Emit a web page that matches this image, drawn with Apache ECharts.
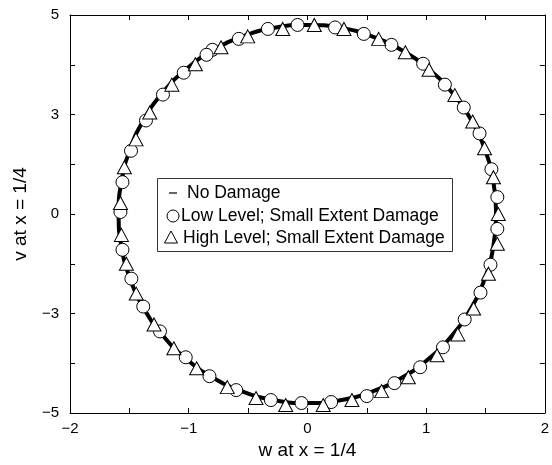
<!DOCTYPE html>
<html><head><meta charset="utf-8">
<script src="https://cdn.jsdelivr.net/npm/echarts@6/dist/echarts.min.js"></script>
<style>html,body{margin:0;padding:0;background:#fff}#c{width:552px;height:465px}</style>
</head><body><div id="c"></div><script>
// No Damage curve (thick line)
var lineX = [1.590,1.566,1.494,1.377,1.218,1.022,0.795,0.544,0.276,0,-0.276,-0.544,-0.795,-1.022,-1.218,-1.377,-1.494,-1.566,-1.590,-1.566,-1.494,-1.377,-1.218,-1.022,-0.795,-0.544,-0.276,0,0.276,0.544,0.795,1.022,1.218,1.377,1.494,1.566,1.590];
var lineY = [0,0.660,1.300,1.900,2.443,2.911,3.291,3.571,3.742,3.800,3.742,3.571,3.291,2.911,2.443,1.900,1.300,0.660,0,-0.660,-1.300,-1.900,-2.443,-2.911,-3.291,-3.571,-3.742,-3.800,-3.742,-3.571,-3.291,-2.911,-2.443,-1.900,-1.300,-0.660,0];
// Low Level; Small Extent Damage (circles)
var lowX = [-0.083,-0.333,-0.578,-0.80,-0.85,-1.042,-1.217,-1.36,-1.486,-1.558,-1.575,-1.558,-1.483,-1.383,-1.242,-1.025,-0.825,-0.60,-0.308,-0.05,0.20,0.50,0.733,0.95,1.142,1.325,1.458,1.542,1.60,1.60,1.55,1.45,1.317,1.158,0.975,0.708,0.475,0.233];
var lowY = [3.80,3.72,3.52,3.30,3.20,2.84,2.40,1.88,1.27,0.64,0.04,-0.72,-1.30,-1.86,-2.36,-2.88,-3.26,-3.54,-3.74,-3.80,-3.78,-3.66,-3.40,-3.08,-2.68,-2.12,-1.58,-1.02,-0.30,0.34,0.90,1.62,2.14,2.60,3.02,3.40,3.62,3.75];
// High Level; Small Extent Damage (triangles)
var highX = [0.058,0.308,0.60,0.825,1.025,1.242,1.392,1.492,1.567,1.608,1.60,1.525,1.40,1.267,1.092,0.85,0.625,0.375,0.133,-0.183,-0.433,-0.675,-0.933,-1.125,-1.292,-1.442,-1.525,-1.567,-1.575,-1.542,-1.444,-1.328,-1.142,-0.944,-0.728,-0.503,-0.208];
var highY = [3.80,3.72,3.52,3.25,2.90,2.39,1.86,1.32,0.74,0.0,-0.60,-1.20,-1.90,-2.42,-2.84,-3.28,-3.56,-3.74,-3.84,-3.84,-3.70,-3.48,-3.10,-2.70,-2.22,-1.60,-1.00,-0.42,0.22,0.94,1.50,2.04,2.60,3.01,3.35,3.57,3.72];
// tick labels
var xTickValues = [-2,-1,0,1,2];
var xTickLabels = ['\u22122','\u22121','0','1','2'];
var yTickValues = [-4,-2,0,2,4];
var yTickLabels = ['\u22125','\u22123','0','3','5'];
var seriesNames = ['No Damage','Low Level; Small Extent Damage','High Level; Small Extent Damage'];

function zip(a,b){return a.map(function(v,i){return [v,b[i]];});}
var FONT = '"Liberation Sans", Arial, Helvetica, sans-serif';
function xFmt(v){var i=xTickValues.indexOf(Math.round(v*100)/100);return i>=0?xTickLabels[i]:'';}
function yFmt(v){var i=yTickValues.indexOf(Math.round(v*100)/100);return i>=0?yTickLabels[i]:'';}
var axisCommon = {
  axisLine:{show:true,onZero:false,lineStyle:{color:'#000',width:1}},
  axisTick:{show:true,inside:true,length:5,lineStyle:{color:'#000'}},
  splitLine:{show:false}
};
var chart = echarts.init(document.getElementById('c'),null,{renderer:'canvas'});
chart.setOption({
  animation:false,
  backgroundColor:'#fff',
  grid:{left:70,right:3,top:15,bottom:49,containLabel:false},
  xAxis:[
    Object.assign({type:'value',min:-2,max:2,interval:0.5,position:'bottom',
      name:'w at x = 1/4',nameLocation:'middle',nameGap:28,
      nameTextStyle:{fontFamily:FONT,fontSize:19,color:'#000'},
      axisLabel:{formatter:xFmt,fontFamily:FONT,fontSize:15,color:'#000',margin:8}},axisCommon),
    Object.assign({type:'value',min:-2,max:2,interval:0.5,position:'top',axisLabel:{show:false}},axisCommon)
  ],
  yAxis:[
    Object.assign({type:'value',min:-4,max:4,interval:1,position:'left',
      name:'v at x = 1/4',nameLocation:'middle',nameGap:40,nameRotate:90,
      nameTextStyle:{fontFamily:FONT,fontSize:19,color:'#000'},
      axisLabel:{formatter:yFmt,fontFamily:FONT,fontSize:15,color:'#000',margin:11}},axisCommon),
    Object.assign({type:'value',min:-4,max:4,interval:1,position:'right',axisLabel:{show:false}},axisCommon)
  ],
  series:[
    {name:seriesNames[0],type:'line',data:zip(lineX,lineY),smooth:true,showSymbol:false,symbol:'none',
     lineStyle:{color:'#000',width:4},z:2},
    {name:seriesNames[1],type:'scatter',data:zip(lowX,lowY),symbol:'circle',symbolSize:13,
     itemStyle:{color:'#fff',borderColor:'#000',borderWidth:1,opacity:1},z:3},
    {name:seriesNames[2],type:'scatter',data:zip(highX,highY),symbol:'triangle',symbolSize:[14,13],
     itemStyle:{color:'#fff',borderColor:'#000',borderWidth:1,opacity:1},z:4}
  ],
  graphic:[
    {type:'rect',left:157,top:178,shape:{width:295,height:73},style:{fill:'#fff',stroke:'#333',lineWidth:1},z:10},
    {type:'line',shape:{x1:169,y1:193,x2:177,y2:193},style:{stroke:'#333',lineWidth:1.5},z:11},
    {type:'circle',shape:{cx:173,cy:216,r:6},style:{fill:'#fff',stroke:'#000',lineWidth:1},z:11},
    {type:'polygon',shape:{points:[[164.5,243],[177.5,243],[171,231]]},style:{fill:'#fff',stroke:'#000',lineWidth:1},z:11},
    {type:'text',x:187,y:193,style:{text:seriesNames[0],font:'17.5px '+FONT,fill:'#000',textVerticalAlign:'middle',verticalAlign:'middle'},z:11},
    {type:'text',x:181,y:216,style:{text:seriesNames[1],font:'17.5px '+FONT,fill:'#000',textVerticalAlign:'middle',verticalAlign:'middle'},z:11},
    {type:'text',x:183,y:238,style:{text:seriesNames[2],font:'17.5px '+FONT,fill:'#000',textVerticalAlign:'middle',verticalAlign:'middle'},z:11}
  ]
});
</script></body></html>
